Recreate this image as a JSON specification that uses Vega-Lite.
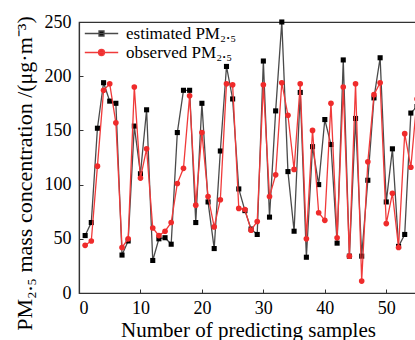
{
  "$schema": "https://vega.github.io/schema/vega-lite/v6.json",
  "width": 338,
  "height": 271,
  "autosize": {"type": "none"},
  "padding": {"left": 79, "top": 22, "right": 0, "bottom": 47},
  "background": "white",
  "config": {
    "font": "Liberation Serif",
    "view": {"stroke": "#333", "strokeWidth": 1.2},
    "axis": {
      "grid": false,
      "domainColor": "#333",
      "domainWidth": 1.2,
      "tickColor": "#333",
      "tickSize": -4,
      "tickWidth": 1,
      "labelFont": "Liberation Serif",
      "labelFontSize": 18,
      "labelColor": "#000",
      "titleFont": "Liberation Serif",
      "titleFontSize": 22,
      "titleFontWeight": "normal",
      "titleColor": "#000"
    }
  },
  "data": {
    "values": [
      {"n": 1, "est": 53, "obs": 44},
      {"n": 2, "est": 65, "obs": 48},
      {"n": 3, "est": 152, "obs": 117},
      {"n": 4, "est": 194, "obs": 187},
      {"n": 5, "est": 177, "obs": 193},
      {"n": 6, "est": 175, "obs": 157},
      {"n": 7, "est": 35, "obs": 42},
      {"n": 8, "est": 48, "obs": 50},
      {"n": 9, "est": 154, "obs": 190},
      {"n": 10, "est": 110, "obs": 106},
      {"n": 11, "est": 169, "obs": 133},
      {"n": 12, "est": 30, "obs": 60},
      {"n": 13, "est": 50, "obs": 53},
      {"n": 14, "est": 51, "obs": 57},
      {"n": 15, "est": 45, "obs": 65},
      {"n": 16, "est": 148, "obs": 101},
      {"n": 17, "est": 187, "obs": 115},
      {"n": 18, "est": 187, "obs": 182},
      {"n": 19, "est": 65, "obs": 81},
      {"n": 20, "est": 175, "obs": 148},
      {"n": 21, "est": 84, "obs": 89},
      {"n": 22, "est": 41, "obs": 61},
      {"n": 23, "est": 131, "obs": 86},
      {"n": 24, "est": 209, "obs": 193},
      {"n": 25, "est": 179, "obs": 192},
      {"n": 26, "est": 96, "obs": 78},
      {"n": 27, "est": 76, "obs": 77},
      {"n": 28, "est": 59, "obs": 58},
      {"n": 29, "est": 54, "obs": 66},
      {"n": 30, "est": 214, "obs": 192},
      {"n": 31, "est": 70, "obs": 89},
      {"n": 32, "est": 168, "obs": 109},
      {"n": 33, "est": 250, "obs": 194},
      {"n": 34, "est": 112, "obs": 164},
      {"n": 35, "est": 57, "obs": 114},
      {"n": 36, "est": 185, "obs": 193},
      {"n": 37, "est": 33, "obs": 50},
      {"n": 38, "est": 135, "obs": 150},
      {"n": 39, "est": 100, "obs": 74},
      {"n": 40, "est": 160, "obs": 67},
      {"n": 41, "est": 137, "obs": 175},
      {"n": 42, "est": 46, "obs": 51},
      {"n": 43, "est": 215, "obs": 190},
      {"n": 44, "est": 34, "obs": 34},
      {"n": 45, "est": 161, "obs": 193},
      {"n": 46, "est": 34, "obs": 11},
      {"n": 47, "est": 104, "obs": 121},
      {"n": 48, "est": 180, "obs": 183},
      {"n": 49, "est": 217, "obs": 194},
      {"n": 50, "est": 84, "obs": 64},
      {"n": 51, "est": 133, "obs": 92},
      {"n": 52, "est": 43, "obs": 42},
      {"n": 53, "est": 54, "obs": 147},
      {"n": 54, "est": 166, "obs": 116},
      {"n": 55, "est": 172, "obs": 179}
    ]
  },
  "transform": [{"fold": ["est", "obs"], "as": ["series", "value"]}],
  "encoding": {
    "x": {
      "field": "n",
      "type": "quantitative",
      "scale": {"domain": [0, 55], "nice": false, "zero": false},
      "axis": {
        "values": [0, 10, 20, 30, 40, 50],
        "labelPadding": 10,
        "title": "Number of predicting samples",
        "titleX": 169,
        "titleY": 43,
        "titleFontSize": 21,
        "titleBaseline": "alphabetic",
        "titleAlign": "center"
      }
    },
    "y": {
      "field": "value",
      "type": "quantitative",
      "scale": {"domain": [0, 250], "nice": false},
      "axis": {
        "values": [0, 50, 100, 150, 200, 250],
        "labelPadding": 12,
        "title": "PM₂.₅ mass concentration /(μg·m⁻³)",
        "titleAngle": -90,
        "titleX": -48,
        "titleY": 151,
        "titleBaseline": "alphabetic",
        "titleAlign": "center"
      }
    }
  },
  "layer": [
    {
      "transform": [{"filter": "datum.series == 'est'"}],
      "mark": {"type": "line", "color": "#4a4a4a", "strokeWidth": 1.3}
    },
    {
      "transform": [{"filter": "datum.series == 'est'"}],
      "mark": {"type": "point", "shape": "square", "filled": true, "size": 26, "opacity": 1, "strokeWidth": 0},
      "encoding": {
        "fill": {
          "field": "series",
          "type": "nominal",
          "scale": {"domain": ["est", "obs"], "range": ["#000000", "#ef2b2b"]},
          "legend": {
            "orient": "none",
            "legendX": 14,
            "legendY": 3,
            "title": null,
            "padding": 0,
            "labelFont": "Liberation Serif",
            "labelFontSize": 17,
            "labelColor": "#000",
            "symbolSize": 100,
            "symbolOpacity": 1,
            "labelOffset": 16,
            "rowPadding": 1,
            "labelExpr": "datum.value == 'est' ? 'estimated PM₂.₅' : 'observed PM₂.₅'",
            "encode": {
              "symbols": {
                "update": {
                  "shape": {"signal": "datum.value == 'est' ? 'M-3.34,0H3.34M-0.5,-0.5H0.5V0.5H-0.5Z' : 'M-3.34,0H3.34M0.6,0A0.6,0.6,0,1,1,-0.6,0A0.6,0.6,0,1,1,0.6,0Z'"},
                  "stroke": {"signal": "datum.value == 'est' ? '#4a4a4a' : '#f03a3a'"},
                  "strokeWidth": {"value": 1.3},
                  "fill": {"signal": "datum.value == 'est' ? '#000000' : '#ef2b2b'"}
                }
              }
            }
          }
        }
      }
    },
    {
      "transform": [{"filter": "datum.series == 'obs'"}],
      "mark": {"type": "line", "color": "#f03a3a", "strokeWidth": 1.3}
    },
    {
      "transform": [{"filter": "datum.series == 'obs'"}],
      "mark": {"type": "point", "shape": "circle", "filled": true, "size": 32, "opacity": 1, "strokeWidth": 0},
      "encoding": {
        "fill": {"field": "series", "type": "nominal"}
      }
    }
  ]
}
